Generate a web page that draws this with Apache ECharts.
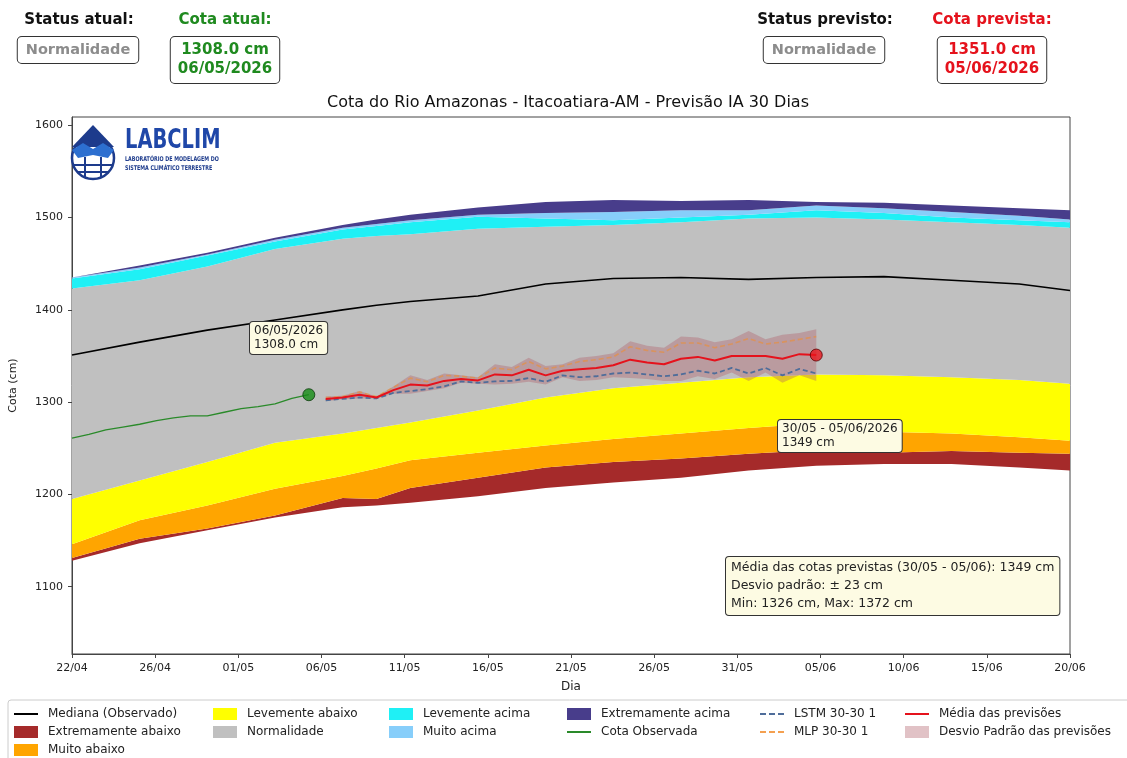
<!DOCTYPE html>
<html>
<head>
<meta charset="utf-8">
<title>Cota do Rio Amazonas - Itacoatiara-AM</title>
<script src="https://cdn.jsdelivr.net/npm/echarts@6/dist/echarts.min.js"></script>
<style>
  html, body { margin: 0; padding: 0; background: #fff; }
  #chart { width: 1127px; height: 758px; }
</style>
</head>
<body>
<div id="chart"></div>
<script>
// rótulos do eixo x (12 intervalos iguais entre 22/04 e 20/06)
const tickLabels = ['22/04', '26/04', '01/05', '06/05', '11/05', '16/05', '21/05',
  '26/05', '31/05', '05/06', '10/06', '15/06', '20/06']
const yTicks = [1100, 1200, 1300, 1400, 1500, 1600]

// climatologia (dias contados a partir de 22/04)
const climDays = [0, 4, 8, 12, 16, 18, 20, 24, 28, 32, 36, 40, 44, 48, 52, 56, 59]
const baseExtAbaixo = [1128, 1147, 1161, 1175, 1186, 1188, 1191, 1198, 1207, 1213, 1218, 1226, 1231, 1233, 1233, 1229, 1226]
const topoExtAbaixo = [1131, 1152, 1163, 1177, 1196, 1195, 1207, 1218, 1229, 1235, 1239, 1244, 1248, 1245, 1247, 1245, 1244]
const topoMuitoAbaixo = [1146, 1172, 1188, 1206, 1220, 1228, 1237, 1245, 1253, 1260, 1266, 1272, 1277, 1268, 1266, 1262, 1258]
const topoLevAbaixo = [1195, 1215, 1235, 1256, 1266, 1272, 1278, 1291, 1305, 1315, 1321, 1327, 1330, 1329, 1327, 1324, 1320]
const topoNormal = [1423, 1432, 1447, 1466, 1477, 1480, 1482, 1488, 1490, 1492, 1495, 1499, 1500, 1498, 1495, 1492, 1489]
const topoLevAcima = [1434, 1444, 1459, 1474, 1487, 1491, 1495, 1501, 1499, 1497, 1500, 1503, 1508, 1505, 1500, 1497, 1495]
const topoMuitoAcima = [1435, 1446, 1460, 1476, 1489, 1493, 1497, 1503, 1505, 1506, 1508, 1508, 1513, 1510, 1506, 1502, 1498]
const topoExtAcima = [1435, 1448, 1462, 1478, 1492, 1498, 1503, 1511, 1517, 1519, 1518, 1519, 1517, 1516, 1513, 1510, 1508]
const mediana = [1351, 1365, 1378, 1389, 1400, 1405, 1409, 1415, 1428, 1434, 1435, 1433, 1435, 1436, 1432, 1428, 1421]

// cota observada
const obsDays = [0, 1, 2, 3, 4, 5, 6, 7, 8, 9, 10, 11, 12, 13, 14]
const obsCota = [1261, 1265, 1270, 1273, 1276, 1280, 1283, 1285, 1285, 1289, 1293, 1295, 1298, 1304, 1308]

// previsões
const prevDays = [15, 16, 17, 18, 19, 20, 21, 22, 23, 24, 25, 26, 27, 28, 29,
  30, 31, 32, 33, 34, 35, 36, 37, 38, 39, 40, 41, 42, 43, 44]
const mediaPrev = [1303.5, 1305, 1308, 1305, 1313, 1319, 1318, 1323, 1325, 1323.5, 1330, 1329, 1335, 1329, 1334,
  1335.5, 1337, 1340, 1346, 1343, 1341, 1347, 1349, 1345, 1350, 1350, 1350, 1347, 1352, 1351]
const lstm = [1302, 1303.5, 1305, 1304, 1310, 1312, 1314, 1317, 1322.5, 1321, 1322.5, 1323, 1326, 1322, 1329,
  1327, 1328, 1331, 1332, 1330, 1328, 1330, 1334, 1331, 1337, 1331, 1337, 1329, 1336, 1331]
const mlp = [1305, 1306, 1311, 1306, 1316, 1326, 1322, 1329, 1328, 1326, 1337, 1335, 1344, 1336, 1339,
  1344, 1346, 1349, 1360, 1356, 1354, 1364, 1364, 1359, 1363, 1369, 1363, 1365, 1368, 1371]
const desvioInf = [1301, 1303, 1304, 1304, 1309, 1309, 1312, 1315, 1321, 1320, 1319, 1320, 1322, 1319, 1327,
  1323, 1324, 1327, 1326, 1325, 1323, 1323, 1328, 1325, 1332, 1323, 1332, 1321, 1329, 1323]
const desvioSup = [1306, 1307, 1312, 1306, 1317, 1329, 1324, 1331, 1329, 1327, 1341, 1338, 1348, 1339, 1341,
  1348, 1350, 1353, 1366, 1361, 1359, 1371, 1370, 1365, 1368, 1377, 1368, 1373, 1375, 1379]

const FONT = 'DejaVu Sans, sans-serif'
const TICK_STEP = 59 / 12
const GREEN = '#1f8a1f'
const RED = '#e5121c'
const BAND = 'rgba(175,95,105,0.38)'
// ícones de linha da legenda (cheia e tracejada)
const LINE_ICON = 'path://M0,0H24V2H0Z'
const DASH_ICON = 'path://M0,0H6V2H0Z M9,0H15V2H9Z M18,0H24V2H18Z'

const chartInstance = echarts.init(document.getElementById('chart'))

const pts = (days, vals) => days.map((d, i) => [d, vals[i]])

// faixa preenchida entre dois limites, desenhada como um polígono só
function faixa (name, days, lo, hi, color, z) {
  return {
    name,
    type: 'custom',
    z,
    silent: true,
    data: days.map((d, i) => [d, lo[i], hi[i]]),
    encode: { x: 0, y: [1, 2] },
    itemStyle: { color },
    renderItem: (params, api) => {
      if (params.dataIndex !== 0) return null
      const top = days.map((d, i) => api.coord([d, hi[i]]))
      const bottom = days.map((d, i) => api.coord([d, lo[i]])).reverse()
      return {
        type: 'polygon',
        shape: { points: top.concat(bottom) },
        style: { fill: color }
      }
    }
  }
}

const series = [
  faixa('Extremamente abaixo', climDays, baseExtAbaixo, topoExtAbaixo, '#a52a2a', 1),
  faixa('Muito abaixo', climDays, topoExtAbaixo, topoMuitoAbaixo, '#ffa500', 1),
  faixa('Levemente abaixo', climDays, topoMuitoAbaixo, topoLevAbaixo, '#ffff00', 1),
  faixa('Normalidade', climDays, topoLevAbaixo, topoNormal, '#c0c0c0', 1),
  faixa('Levemente acima', climDays, topoNormal, topoLevAcima, '#1ff0f5', 1),
  faixa('Muito acima', climDays, topoLevAcima, topoMuitoAcima, '#87cefa', 1),
  faixa('Extremamente acima', climDays, topoMuitoAcima, topoExtAcima, '#483d8b', 1),
  {
    name: 'Mediana (Observado)', type: 'line', data: pts(climDays, mediana), symbol: 'none',
    lineStyle: { color: '#000', width: 1.6 }, itemStyle: { color: '#000' }, z: 3
  },
  {
    name: 'Cota Observada', type: 'line', data: pts(obsDays, obsCota), symbol: 'none',
    lineStyle: { color: '#2a8a2a', width: 1.3 }, itemStyle: { color: '#2a8a2a' }, z: 3
  },
  faixa('Desvio Padrão das previsões', prevDays, desvioInf, desvioSup, BAND, 4),
  {
    name: 'LSTM 30-30 1', type: 'line', data: pts(prevDays, lstm), symbol: 'none',
    lineStyle: { color: '#4f6d9a', width: 1.8, type: [5, 3] }, itemStyle: { color: '#4f6d9a' }, z: 5
  },
  {
    name: 'MLP 30-30 1', type: 'line', data: pts(prevDays, mlp), symbol: 'none',
    lineStyle: { color: '#f28c28', width: 1.6, type: [5, 3], opacity: 0.55 }, itemStyle: { color: '#f4a050' }, z: 5
  },
  {
    name: 'Média das previsões', type: 'line', data: pts(prevDays, mediaPrev), symbol: 'none',
    lineStyle: { color: RED, width: 2 }, itemStyle: { color: RED }, z: 6
  },
  {
    type: 'scatter', z: 7, symbolSize: 12,
    data: [
      { value: [obsDays[obsDays.length - 1], obsCota[obsCota.length - 1]], itemStyle: { color: '#148c14', borderColor: '#0b3a0b', borderWidth: 1 } },
      { value: [prevDays[prevDays.length - 1], mediaPrev[mediaPrev.length - 1]], itemStyle: { color: '#e8141c', borderColor: '#5a0000', borderWidth: 1 } }
    ]
  }
]

// legenda em colunas, como no original
const legendCols = [
  { left: 14, data: [{ name: 'Mediana (Observado)', icon: LINE_ICON }, { name: 'Extremamente abaixo', icon: 'rect' }, { name: 'Muito abaixo', icon: 'rect' }] },
  { left: 213, data: [{ name: 'Levemente abaixo', icon: 'rect' }, { name: 'Normalidade', icon: 'rect' }] },
  { left: 389, data: [{ name: 'Levemente acima', icon: 'rect' }, { name: 'Muito acima', icon: 'rect' }] },
  { left: 567, data: [{ name: 'Extremamente acima', icon: 'rect' }, { name: 'Cota Observada', icon: LINE_ICON }] },
  { left: 760, data: [{ name: 'LSTM 30-30 1', icon: DASH_ICON }, { name: 'MLP 30-30 1', icon: DASH_ICON }] },
  { left: 905, data: [{ name: 'Média das previsões', icon: LINE_ICON }, { name: 'Desvio Padrão das previsões', icon: 'rect' }] }
]
const legend = legendCols.map(c => ({
  left: c.left, top: 708, orient: 'vertical', data: c.data, selectedMode: false,
  itemWidth: 24, itemHeight: 12, itemGap: 6, padding: 0,
  itemStyle: { borderWidth: 0 },
  textStyle: { fontFamily: FONT, fontSize: 12, color: '#222', lineHeight: 12, padding: [0, 0, 0, 5] }
}))

const caixa = (x, y, text, extra) => ({
  type: 'text', x, y, z: 20,
  style: Object.assign({
    text, fontFamily: FONT, fontSize: 12, fill: '#222', align: 'left', verticalAlign: 'top',
    backgroundColor: '#fdfbe3', borderColor: '#333', borderWidth: 1, borderRadius: 3,
    padding: [2, 4, 2, 4], lineHeight: 14
  }, extra)
})
const rotulo = (x, y, text, color) => ({
  type: 'text', x, y, z: 20,
  style: { text, fontFamily: FONT, fontSize: 15, fontWeight: 'bold', fill: color, align: 'center', verticalAlign: 'middle' }
})
const status = (x, y, text, color, lines) => ({
  type: 'text', x, y, z: 20,
  style: {
    text, fontFamily: FONT, fontSize: lines > 1 ? 15 : 14.5, fontWeight: 'bold', fill: color,
    align: 'center', verticalAlign: 'middle', lineHeight: lines > 1 ? 19 : 18,
    backgroundColor: '#fff', borderColor: '#333', borderWidth: 1, borderRadius: 4,
    padding: lines > 1 ? [4, 7, 4, 7] : [4, 8, 4, 8]
  }
})

const cotaAtual = obsCota[obsCota.length - 1].toFixed(1) + ' cm'
const cotaPrevista = mediaPrev[mediaPrev.length - 1].toFixed(1) + ' cm'

const graphic = [
  // cabeçalho
  rotulo(79, 20, 'Status atual:', '#111'),
  status(78, 50, 'Normalidade', '#8c8c8c', 1),
  rotulo(225, 20, 'Cota atual:', GREEN),
  status(225, 60, cotaAtual + '\n06/05/2026', GREEN, 2),
  rotulo(825, 20, 'Status previsto:', '#111'),
  status(824, 50, 'Normalidade', '#8c8c8c', 1),
  rotulo(992, 20, 'Cota prevista:', RED),
  status(992, 60, cotaPrevista + '\n05/06/2026', RED, 2),
  {
    type: 'text', x: 568, y: 103, z: 20,
    style: { text: 'Cota do Rio Amazonas - Itacoatiara-AM - Previsão IA 30 Dias', fontFamily: FONT, fontSize: 16, fill: '#111', align: 'center', verticalAlign: 'middle' }
  },
  // anotações
  caixa(250, 322, '06/05/2026\n' + cotaAtual),
  caixa(778, 420, '30/05 - 05/06/2026\n1349 cm'),
  caixa(726, 557, 'Média das cotas previstas (30/05 - 05/06): 1349 cm\nDesvio padrão: ± 23 cm\nMin: 1326 cm, Max: 1372 cm',
    { fontSize: 12.5, lineHeight: 18, padding: [2, 5, 2, 5] }),
  // logo LABCLIM
  { type: 'circle', z: 20, shape: { cx: 93, cy: 158, r: 21 }, style: { fill: '#fff', stroke: '#1d3b8c', lineWidth: 2.5 } },
  { type: 'polygon', z: 21, shape: { points: [[93, 125], [114, 147], [72, 147]] }, style: { fill: '#1d3b8c' } },
  { type: 'polygon', z: 21, shape: { points: [[72, 150], [83, 143], [93, 149], [103, 143], [114, 150], [108, 158], [93, 155], [78, 158]] }, style: { fill: '#2d6fd0' } },
  { type: 'line', z: 21, shape: { x1: 73, y1: 165, x2: 113, y2: 165 }, style: { stroke: '#1d3b8c', lineWidth: 2 } },
  { type: 'line', z: 21, shape: { x1: 77, y1: 172, x2: 109, y2: 172 }, style: { stroke: '#1d3b8c', lineWidth: 2 } },
  { type: 'line', z: 21, shape: { x1: 85, y1: 157, x2: 85, y2: 177 }, style: { stroke: '#1d3b8c', lineWidth: 2 } },
  { type: 'line', z: 21, shape: { x1: 101, y1: 157, x2: 101, y2: 177 }, style: { stroke: '#1d3b8c', lineWidth: 2 } },
  {
    type: 'text', x: 125, y: 141, scaleX: 0.72, z: 21,
    style: { text: 'LABCLIM', fontFamily: FONT, fontSize: 27, fontWeight: 'bold', fill: '#1f47a8', verticalAlign: 'middle' }
  },
  {
    type: 'text', x: 125, y: 159, scaleX: 0.74, z: 21,
    style: { text: 'LABORATÓRIO DE MODELAGEM DO', fontFamily: FONT, fontSize: 6.5, fontWeight: 'bold', fill: '#1d3b8c', verticalAlign: 'middle' }
  },
  {
    type: 'text', x: 125, y: 168, scaleX: 0.74, z: 21,
    style: { text: 'SISTEMA CLIMÁTICO TERRESTRE', fontFamily: FONT, fontSize: 6.5, fontWeight: 'bold', fill: '#1d3b8c', verticalAlign: 'middle' }
  },
  // moldura da legenda
  { type: 'rect', z: -1, shape: { x: 8, y: 700, width: 1140, height: 70, r: 3 }, style: { fill: '#fff', stroke: '#cccccc', lineWidth: 1 } }
]

const option = {
  animation: false,
  backgroundColor: '#fff',
  grid: { left: 67, right: 57, top: 117, bottom: 104, show: true, borderColor: '#444', borderWidth: 1, backgroundColor: 'transparent' },
  xAxis: {
    type: 'value', min: 0, max: 59,
    name: 'Dia', nameLocation: 'middle', nameGap: 27,
    nameTextStyle: { fontFamily: FONT, fontSize: 12, color: '#222' },
    axisLine: { show: true, lineStyle: { color: '#444' } },
    axisTick: { show: true, length: 4, lineStyle: { color: '#444' }, customValues: tickLabels.map((_, i) => i * 59 / 12) },
    axisLabel: {
      fontFamily: FONT, fontSize: 11, color: '#222', margin: 9,
      customValues: tickLabels.map((_, i) => i * 59 / 12),
      formatter: v => tickLabels[Math.round(v / TICK_STEP)]
    },
    splitLine: { show: false }
  },
  yAxis: {
    type: 'value', min: 1027, max: 1609,
    name: 'Cota (cm)', nameLocation: 'middle', nameGap: 53,
    nameTextStyle: { fontFamily: FONT, fontSize: 11, color: '#222' },
    axisLine: { show: true, lineStyle: { color: '#444' } },
    axisTick: { show: true, length: 4, lineStyle: { color: '#444' }, customValues: yTicks },
    axisLabel: { fontFamily: FONT, fontSize: 11, color: '#222', margin: 9, customValues: yTicks, formatter: v => String(v) },
    splitLine: { show: false }
  },
  legend,
  graphic,
  series
}

chartInstance.setOption(option)
</script>
</body>
</html>
